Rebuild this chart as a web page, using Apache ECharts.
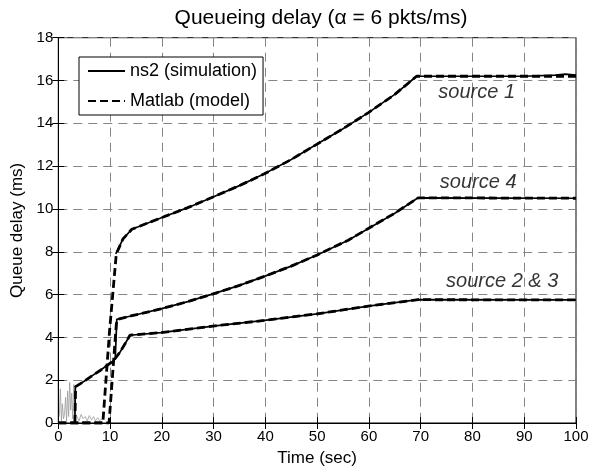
<!DOCTYPE html>
<html><head><meta charset="utf-8">
<script src="https://cdn.jsdelivr.net/npm/echarts@6/dist/echarts.min.js"></script>
<style>html,body{margin:0;padding:0;background:#fff}#c{width:601px;height:472px}</style>
</head><body><div id="c"></div>
<script>
// ---- tick labels ----
const xTicks = [0, 10, 20, 30, 40, 50, 60, 70, 80, 90, 100];
const yTicks = [0, 2, 4, 6, 8, 10, 12, 14, 16, 18];

// ---- ns2 (simulation) ----
const simS1Time  = [11.1, 12.5, 14.2, 19.8, 25, 29.9, 35, 39.8, 45, 50.0, 55, 59.9, 65, 69.2, 80, 90, 96, 98, 100];
const simS1Delay = [7.9, 8.6, 9.05, 9.58, 10.06, 10.56, 11.09, 11.64, 12.31, 13.03, 13.75, 14.5, 15.35, 16.2, 16.2, 16.2, 16.25, 16.3, 16.25];
const simS4Time  = [11.0, 11.3, 14, 19.8, 25, 29.9, 35, 39.8, 45, 50.0, 56, 59.9, 65, 69.5, 100];
const simS4Delay = [3.0, 4.84, 5.0, 5.33, 5.67, 6.03, 6.43, 6.85, 7.33, 7.85, 8.54, 9.09, 9.8, 10.52, 10.5];
const simS23Time  = [3.2, 3.3, 5, 6.5, 8, 10.6, 11.9, 13, 13.85, 19.8, 29.9, 39.8, 50, 59.9, 69.5, 100];
const simS23Delay = [0.2, 1.7, 1.95, 2.2, 2.44, 2.9, 3.3, 3.75, 4.1, 4.22, 4.53, 4.79, 5.1, 5.46, 5.76, 5.75];
const simNoiseTime  = [0.2, 0.4, 0.6, 0.8, 1.0, 1.2, 1.4, 1.6, 1.8, 2.0, 2.2, 2.4, 2.6, 2.8, 3.0, 3.2, 3.6, 4.0, 4.4, 4.8, 5.2, 5.6, 6.0, 6.4, 6.8, 7.2, 7.6, 8.0, 8.4];
const simNoiseDelay = [0.3, 1.6, 0.1, 0.9, 0.2, 0.4, 1.2, 0.1, 1.5, 0.3, 1.9, 0.6, 1.4, 0.2, 1.8, 0.5, 0.3, 0.1, 0.4, 0.2, 0.3, 0.1, 0.35, 0.15, 0.3, 0.1, 0.25, 0.1, 0.2];

// ---- Matlab (model) ----
const modS1Time  = [0, 8.6, 9.9, 11.2, 12.5, 14.2, 19.8, 25, 29.9, 35, 39.8, 45, 50.0, 55, 59.9, 65, 69.2, 100];
const modS1Delay = [0, 0, 4.3, 7.9, 8.6, 9.05, 9.58, 10.06, 10.56, 11.09, 11.64, 12.31, 13.03, 13.75, 14.5, 15.35, 16.2, 16.2];
const modS4Time  = [0, 9.8, 11.2, 11.4, 14, 19.8, 25, 29.9, 35, 39.8, 45, 50.0, 56, 59.9, 65, 69.5, 100];
const modS4Delay = [0, 0, 4.6, 4.84, 5.0, 5.33, 5.67, 6.03, 6.43, 6.85, 7.33, 7.85, 8.54, 9.09, 9.8, 10.52, 10.5];
const modS23Time  = [3.2, 3.35, 5, 6.5, 8, 10.6, 11.9, 13, 13.85, 19.8, 29.9, 39.8, 50, 59.9, 69.5, 100];
const modS23Delay = [0, 1.7, 1.95, 2.2, 2.44, 2.9, 3.3, 3.75, 4.1, 4.22, 4.53, 4.79, 5.1, 5.46, 5.76, 5.75];

// ---- annotations ----
const annotText  = ['source 1', 'source 4', 'source 2 & 3'];
const annotTime  = [73.4, 73.7, 74.9];
const annotDelay = [15.42, 11.22, 6.63];

const FONT = '"Liberation Sans", Arial, Helvetica, sans-serif';
const zip = (t, d) => t.map((v, i) => [v, d[i]]);

const simStyle = { color: '#000', width: 1.7, type: 'solid' };
const modStyle = { color: '#000', width: 2.8, type: [8, 4] };
function line(name, t, d, style, z) {
  return { type: 'line', name: name, data: zip(t, d), symbol: 'none', showSymbol: false,
    lineStyle: style, itemStyle: { color: '#000' }, z: z, silent: true, animation: false };
}
const gridDash = { color: '#858585', width: 1, type: [9, 6] };

const chart = echarts.init(document.getElementById('c'), null, { renderer: 'canvas' });
chart.setOption({
  animation: false,
  backgroundColor: '#fff',
  title: {
    text: 'Queueing delay (\u03b1 = 6 pkts/ms)',
    left: 316, top: 3, textAlign: 'center',
    textStyle: { fontFamily: FONT, fontSize: 21, fontWeight: 'normal', color: '#000' }
  },
  grid: { left: 58.3, right: 25, top: 37.7, bottom: 46, show: true, borderColor: '#000', borderWidth: 1, backgroundColor: 'transparent' },
  legend: {
    data: ['ns2 (simulation)', 'Matlab (model)'],
    orient: 'vertical', left: 79, top: 57,
    itemWidth: 37, itemHeight: 14, itemGap: 12,
    padding: [5, 6, 5, 8],
    borderColor: '#000', borderWidth: 1, backgroundColor: '#fff', borderRadius: 0,
    selectedMode: false,
    itemStyle: { opacity: 0 },
    textStyle: { fontFamily: FONT, fontSize: 18, color: '#000' }
  },
  xAxis: [{
    type: 'value', min: xTicks[0], max: xTicks[xTicks.length - 1], interval: xTicks[1] - xTicks[0],
    name: 'Time (sec)', nameLocation: 'middle', nameGap: 27,
    nameTextStyle: { fontFamily: FONT, fontSize: 17, color: '#000' },
    axisLine: { show: true, lineStyle: { color: '#000', width: 1 } },
    axisTick: { show: true, inside: true, length: 6, lineStyle: { color: '#000' } },
    axisLabel: { fontFamily: FONT, fontSize: 15, color: '#000', margin: 6 },
    splitLine: { show: true, lineStyle: gridDash }
  }, {
    type: 'value', position: 'top', min: xTicks[0], max: xTicks[xTicks.length - 1], interval: xTicks[1] - xTicks[0],
    axisLine: { show: true, lineStyle: { color: '#000' } },
    axisTick: { show: true, inside: true, length: 6, lineStyle: { color: '#000' } },
    axisLabel: { show: false }, splitLine: { show: false }
  }],
  yAxis: [{
    type: 'value', min: yTicks[0], max: yTicks[yTicks.length - 1], interval: yTicks[1] - yTicks[0],
    name: 'Queue delay (ms)', nameLocation: 'middle', nameGap: 32, nameRotate: 90,
    nameTextStyle: { fontFamily: FONT, fontSize: 17, color: '#000' },
    axisLine: { show: true, lineStyle: { color: '#000', width: 1 } },
    axisTick: { show: true, inside: true, length: 6, lineStyle: { color: '#000' } },
    axisLabel: { fontFamily: FONT, fontSize: 15, color: '#000', margin: 5 },
    splitLine: { show: true, lineStyle: gridDash }
  }, {
    type: 'value', position: 'right', min: yTicks[0], max: yTicks[yTicks.length - 1], interval: yTicks[1] - yTicks[0],
    axisLine: { show: true, lineStyle: { color: '#000' } },
    axisTick: { show: true, inside: true, length: 6, lineStyle: { color: '#000' } },
    axisLabel: { show: false }, splitLine: { show: false }
  }],
  series: [
    line('ns2 noise', simNoiseTime, simNoiseDelay, { color: '#9a9a9a', width: 0.8, type: 'solid' }, 2),
    line('ns2 (simulation)', simS1Time, simS1Delay, simStyle, 3),
    line('ns2 s4', simS4Time, simS4Delay, simStyle, 3),
    line('ns2 s23', simS23Time, simS23Delay, simStyle, 3),
    line('Matlab (model)', modS1Time, modS1Delay, modStyle, 4),
    line('Matlab s4', modS4Time, modS4Delay, modStyle, 4),
    line('Matlab s23', modS23Time, modS23Delay, modStyle, 4),
    {
      type: 'scatter', name: 'labels', symbolSize: 0, silent: true, z: 5,
      data: annotTime.map((t, i) => ({ value: [t, annotDelay[i]], name: annotText[i] })),
      label: { show: true, position: 'right', distance: 0, formatter: p => p.name,
        fontFamily: FONT, fontSize: 20, fontStyle: 'italic', color: '#000' }
    }
  ]
});
</script></body></html>
